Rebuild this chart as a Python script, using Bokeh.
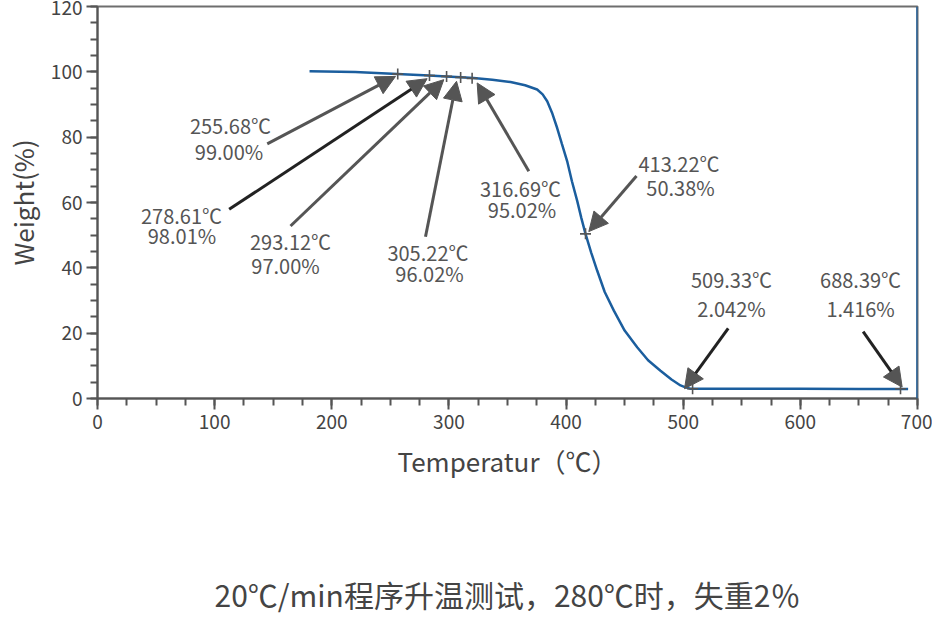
from bokeh.plotting import figure
from bokeh.models import (ColumnDataSource, Range1d, SingleIntervalTicker, FixedTicker,
                          LinearAxis, Arrow, NormalHead, Span, LabelSet)
from bokeh.core.properties import value
from bokeh.embed import file_html
from bokeh.resources import INLINE

# ---- data ----
curve_temp = [181, 220, 256, 283, 298, 310, 321, 337, 352.6, 365, 375.3, 380, 383.9, 388,
              392.4, 396.5, 400.9, 405, 409.5, 413, 416.6, 421.5, 426.6, 433, 440.8, 450,
              460.7, 470, 480.6, 490, 497.7, 502, 506.2, 550, 600, 650, 692]
curve_weight = [100.2, 99.95, 99.35, 98.9, 98.6, 98.35, 98.1, 97.6, 96.9, 95.9, 94.6, 93.1,
                91.0, 87.5, 82.8, 77.9, 72.7, 66.5, 60.5, 55.3, 50.4, 44.6, 39.1, 32.6, 26.9,
                20.8, 15.7, 11.7, 8.5, 5.8, 4.0, 3.4, 3.0, 2.98, 2.95, 2.92, 2.9]

mark_temp = [256.3, 283.4, 298.0, 310.0, 319.8, 416.6, 508.0, 685.5]
mark_weight = [99.3, 98.9, 98.6, 98.3, 98.0, 50.4, 3.0, 3.0]

label_temp = ["255.68℃", "278.61℃", "293.12℃", "305.22℃", "316.69℃", "413.22℃", "509.33℃", "688.39℃"]
label_weight = ["99.00%", "98.01%", "97.00%", "96.02%", "95.02%", "50.38%", "2.042%", "1.416%"]

x_ticks = [0, 100, 200, 300, 400, 500, 600, 700]
y_ticks = [0, 20, 40, 60, 80, 100, 120]

x_title = "Temperatur（℃）"
y_title = "Weight(%)"
caption = "20℃/min程序升温测试，280℃时，失重2％"

# ---- annotation layout (data coordinates) ----
lab1_x = [113.5, 71.7, 164.8, 282.1, 361.1, 496.4, 541.2, 651.4]
lab1_y = [83.7, 55.9, 48.0, 44.7, 64.3, 71.8, 36.5, 36.5]
lab2_x = [112.3, 72.1, 160.5, 283.4, 362.4, 497.7, 541.2, 651.4]
lab2_y = [75.7, 49.8, 40.6, 38.2, 58.0, 64.5, 27.4, 27.4]

arr_x0 = [144.9, 112.4, 164.8, 280.0, 368.2, 460.1, 538.4, 653.6]
arr_y0 = [77.95, 57.9, 52.8, 49.5, 69.6, 68.1, 21.5, 20.5]
arr_x1 = [254.4, 281.4, 295.6, 306.5, 324.1, 419.4, 501.1, 686.9]
arr_y1 = [98.6, 97.9, 97.6, 97.1, 96.6, 51.1, 3.0, 3.5]
dark = [False, True, False, False, False, False, True, True]

FONT = "Noto Sans CJK SC"
GRAY = "#555555"
BLUE = "#1b5e9e"

p = figure(width=932, height=618, x_range=Range1d(0, 700), y_range=Range1d(0, 120),
           output_backend="svg", toolbar_location=None,
           min_border_left=97, min_border_right=15, min_border_top=6, min_border_bottom=220)
p.xgrid.visible = False
p.ygrid.visible = False
p.outline_line_color = "#6e6e6e"
p.outline_line_width = 2
p.background_fill_color = "white"
p.border_fill_color = "white"

p.xaxis.ticker = SingleIntervalTicker(interval=100, num_minor_ticks=4)
p.yaxis.ticker = SingleIntervalTicker(interval=20, num_minor_ticks=4)
for ax in (p.xaxis[0], p.yaxis[0]):
    ax.axis_line_color = GRAY
    ax.axis_line_width = 2
    ax.major_tick_line_color = GRAY
    ax.minor_tick_line_color = GRAY
    ax.major_tick_line_width = 2
    ax.minor_tick_line_width = 2
    ax.major_tick_in = 0
    ax.major_tick_out = 11
    ax.minor_tick_in = 0
    ax.minor_tick_out = 7
    ax.major_label_text_font = FONT
    ax.major_label_text_font_size = "19px"
    ax.major_label_text_color = "#444444"
    ax.axis_label_text_font = FONT
    ax.axis_label_text_font_size = "26px"
    ax.axis_label_text_font_style = "normal"
    ax.axis_label_text_color = "#444444"
p.xaxis.axis_label = x_title
p.yaxis.axis_label = y_title
p.xaxis.major_label_standoff = 5
p.yaxis.major_label_standoff = 4
p.xaxis.axis_label_standoff = 10
p.yaxis.axis_label_standoff = 7

# caption as the label of a bare second bottom axis
cap_axis = LinearAxis(ticker=FixedTicker(ticks=[]), axis_line_color=None,
                      major_tick_out=0, major_tick_in=0, minor_tick_out=0, minor_tick_in=0,
                      major_label_standoff=0,
                      axis_label=caption, axis_label_standoff=90,
                      axis_label_text_font=FONT, axis_label_text_font_size="30px",
                      axis_label_text_font_style="normal", axis_label_text_color="#444444")
p.add_layout(cap_axis, "below")

p.add_layout(Span(location=700, dimension="height", line_color=BLUE, line_width=2.5))

p.line(curve_temp, curve_weight, line_color=BLUE, line_width=2.5)

# arrows
for flag, col in ((False, GRAY), (True, "#222222")):
    idx = [i for i, d in enumerate(dark) if d == flag]
    src = ColumnDataSource(dict(x0=[arr_x0[i] for i in idx], y0=[arr_y0[i] for i in idx],
                                x1=[arr_x1[i] for i in idx], y1=[arr_y1[i] for i in idx]))
    p.add_layout(Arrow(source=src, x_start="x0", y_start="y0", x_end="x1", y_end="y1",
                       line_color=col, line_width=3,
                       end=NormalHead(size=19, fill_color=GRAY, line_color=GRAY, line_width=1)))

p.scatter(mark_temp, mark_weight, marker="cross", size=11, line_color=GRAY, line_width=1.6)

lsrc1 = ColumnDataSource(dict(x=lab1_x, y=lab1_y, t=label_temp))
lsrc2 = ColumnDataSource(dict(x=lab2_x, y=lab2_y, t=label_weight))
for s in (lsrc1, lsrc2):
    p.add_layout(LabelSet(source=s, x="x", y="y", text="t", text_align="center",
                          text_baseline="middle", text_font=value(FONT),
                          text_font_size=value("20px"), text_color=GRAY))

open("out.html", "w").write(file_html(p, INLINE))
